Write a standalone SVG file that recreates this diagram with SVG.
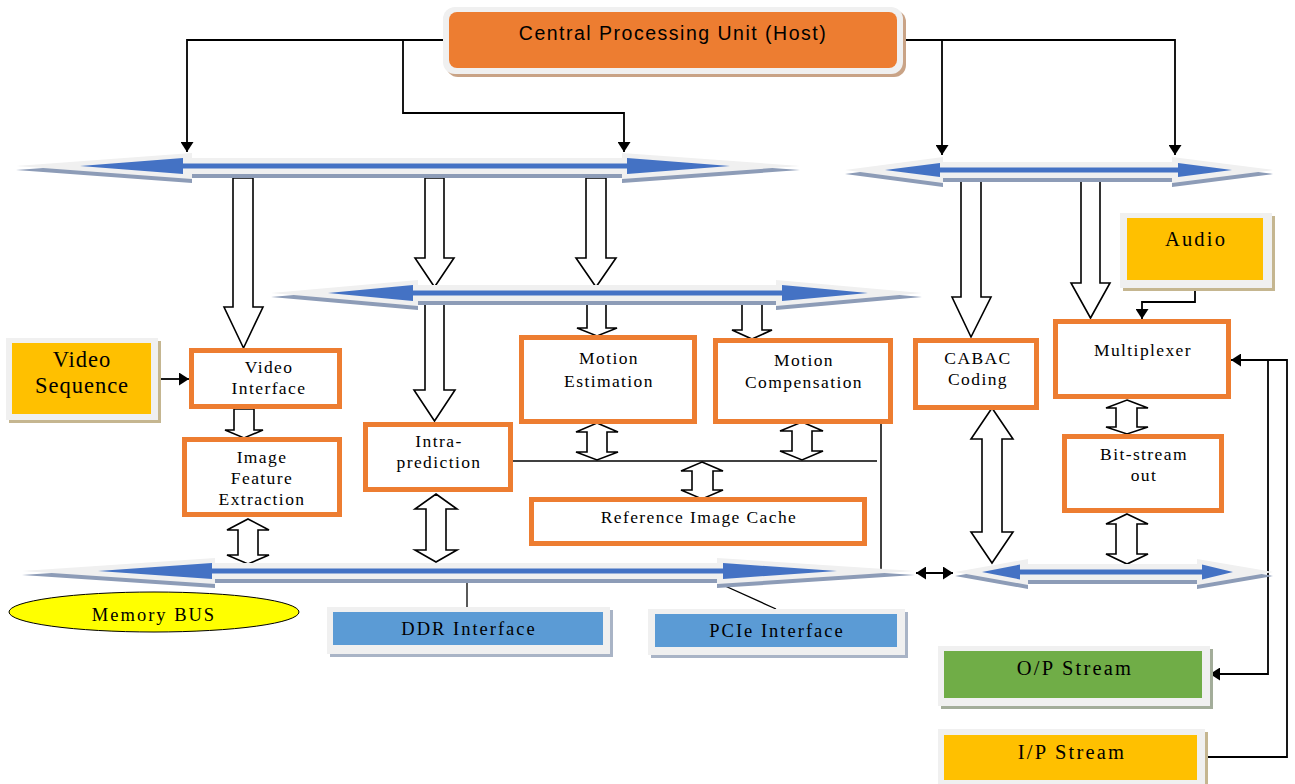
<svg xmlns="http://www.w3.org/2000/svg" width="1295" height="784" viewBox="0 0 1295 784">
<defs>
<marker id="ah" markerWidth="10" markerHeight="13" refX="10" refY="6.5" orient="auto-start-reverse" markerUnits="userSpaceOnUse">
<path d="M0,0 L10,6.5 L0,13 z" fill="#000"/>
</marker>
<style>
.ln{fill:none;stroke:#000;stroke-width:1.8}
.blk{fill:#fff;stroke:#000;stroke-width:1.6;stroke-linejoin:miter}
.bo{fill:#f0f0f0}
.bs{fill:#8d9cb7}
.bi{fill:#4472c4}
.ob{fill:#fff;stroke:#ed7d31;stroke-width:5}
.frame{fill:#f0f0f0}
.t17{font-family:"Liberation Serif","Times New Roman",serif;font-size:17.5px;letter-spacing:1.4px;text-anchor:middle;fill:#000}
.t18{font-family:"Liberation Serif","Times New Roman",serif;font-size:18.5px;letter-spacing:2px;text-anchor:middle;fill:#000}
.t20{font-family:"Liberation Serif","Times New Roman",serif;font-size:20.5px;letter-spacing:2.2px;text-anchor:middle;fill:#000}
.t22{font-family:"Liberation Serif","Times New Roman",serif;font-size:22.5px;letter-spacing:1px;text-anchor:middle;fill:#000}
.cpu{font-family:"Liberation Sans",Arial,sans-serif;font-size:19.5px;letter-spacing:1.5px;text-anchor:middle;fill:#000}
</style>
</defs>
<rect width="1295" height="784" fill="#fff"/>

<g id="connectors">
<polyline class="ln" points="443,40 187,40 187,152" marker-end="url(#ah)"/>
<polyline class="ln" points="403,40 403,113 624,113 624,152" marker-end="url(#ah)"/>
<polyline class="ln" points="903,40 1175,40 1175,155" marker-end="url(#ah)"/>
<polyline class="ln" points="942,40 942,155" marker-end="url(#ah)"/>
<polyline class="ln" points="158,379 189,379" marker-end="url(#ah)"/>
<polyline class="ln" points="1195,288 1195,302 1142,302 1142,319" marker-end="url(#ah)"/>
<polyline class="ln" points="1205,757 1287,757 1287,360 1231,360" marker-end="url(#ah)"/>
<polyline class="ln" points="1268,360 1268,674 1210,674" marker-end="url(#ah)"/>
<polyline class="ln" points="916,573 953,573" marker-start="url(#ah)" marker-end="url(#ah)"/>
<line class="ln" x1="513" y1="461" x2="877" y2="461" style="stroke-width:1.5"/>
<line class="ln" x1="881" y1="423" x2="881" y2="572" style="stroke-width:1.5"/>
<line class="ln" x1="467" y1="577" x2="467" y2="607" style="stroke-width:1.3"/>
<line class="ln" x1="714" y1="581" x2="776" y2="609" style="stroke-width:1.3"/>
<polygon class="blk" points="233,178 253,178 253,307 263,307 243.5,348 224,307 233,307"/>
<polygon class="blk" points="425,178 444,178 444,258 454,258 434.5,287 415,258 425,258"/>
<polygon class="blk" points="586,178 606,178 606,258 616,258 596,287 576,258 586,258"/>
<polygon class="blk" points="425,302 444,302 444,390 455,390 434.5,421 414,390 425,390"/>
<polygon class="blk" points="587,302 606,302 606,328 617,328 597,336 577,328 587,328"/>
<polygon class="blk" points="742,302 762,302 762,330 772,330 752,339 732,330 742,330"/>
<polygon class="blk" points="234,409 254,409 254,430 263,430 244,438 225,430 234,430"/>
<polygon class="blk" points="961,180 981,180 981,297 991,297 971,337 952,297 961,297"/>
<polygon class="blk" points="1081,180 1100,180 1100,283 1110,283 1090.5,318 1071,283 1081,283"/>
<polygon class="blk" points="597,423 618,432 607,432 607,452 618,452 597,460 576,452 587,452 587,432 576,432"/>
<polygon class="blk" points="802,422 823,431 812,431 812,451 823,451 802,460 780,451 792,451 792,431 780,431"/>
<polygon class="blk" points="702,462 723,471 713,471 713,490 723,490 702,499 681,490 692,490 692,471 681,471"/>
<polygon class="blk" points="436,494 457,509 446,509 446,550 457,550 436,562 415,550 426,550 426,509 415,509"/>
<polygon class="blk" points="248,519 269,530 258,530 258,555 269,555 248,564 227,555 238,555 238,530 227,530"/>
<polygon class="blk" points="992,408 1013,439 1002,439 1002,532 1013,532 992,563 971,532 982,532 982,439 971,439"/>
<polygon class="blk" points="1127,400 1148,408 1137,408 1137,427 1148,427 1127,434 1106,427 1116,427 1116,408 1106,408"/>
<polygon class="blk" points="1127,514 1148,524 1137,524 1137,554 1148,554 1127,564 1106,554 1116,554 1116,524 1106,524"/>
</g>

<g id="bus-top-left">
<path class="bs" d="M16,170 L192,157 L192,162 L622,162 L622,157 L800,170 L622,183 L622,178 L192,178 L192,183 Z"/>
<path class="bo" d="M16,166 L192,153 L192,158 L622,158 L622,153 L800,166 L622,179 L622,174 L192,174 L192,179 Z"/>
<path class="bi" d="M80,166 L183,158 L183,163.5 L627,163.5 L627,158 L730,166 L627,174 L627,168.5 L183,168.5 L183,174 Z"/>
</g>
<g id="bus-top-right">
<path class="bs" d="M845,174 L943,161 L943,166 L1172,166 L1172,161 L1273,174 L1172,187 L1172,182 L943,182 L943,187 Z"/>
<path class="bo" d="M845,170 L943,157 L943,162 L1172,162 L1172,157 L1273,170 L1172,183 L1172,178 L943,178 L943,183 Z"/>
<path class="bi" d="M885,170 L940,163 L940,167.5 L1178,167.5 L1178,163 L1232,170 L1178,177 L1178,172.5 L940,172.5 L940,177 Z"/>
</g>
<g id="bus-middle">
<path class="bs" d="M271,297 L418,284 L418,289 L776,289 L776,284 L922,297 L776,310 L776,305 L418,305 L418,310 Z"/>
<path class="bo" d="M271,293 L418,280 L418,285 L776,285 L776,280 L922,293 L776,306 L776,301 L418,301 L418,306 Z"/>
<path class="bi" d="M328,293 L413,285 L413,290.5 L782,290.5 L782,285 L868,293 L782,301 L782,295.5 L413,295.5 L413,301 Z"/>
</g>
<g id="bus-memory">
<path class="bs" d="M22,575 L215,562 L215,567 L717,567 L717,562 L915,575 L717,588 L717,583 L215,583 L215,588 Z"/>
<path class="bo" d="M22,571 L215,558 L215,563 L717,563 L717,558 L915,571 L717,584 L717,579 L215,579 L215,584 Z"/>
<path class="bi" d="M98,571 L212,563 L212,568.5 L723,568.5 L723,563 L837,571 L723,579 L723,573.5 L212,573.5 L212,579 Z"/>
</g>
<g id="bus-bottom-right">
<path class="bs" d="M955,576 L1028,563 L1028,568 L1197,568 L1197,563 L1273,576 L1197,589 L1197,584 L1028,584 L1028,589 Z"/>
<path class="bo" d="M955,572 L1028,559 L1028,564 L1197,564 L1197,559 L1273,572 L1197,585 L1197,580 L1028,580 L1028,585 Z"/>
<path class="bi" d="M982,572 L1020,564.5 L1020,569.5 L1202,569.5 L1202,564.5 L1233,572 L1202,579.5 L1202,574.5 L1020,574.5 L1020,579.5 Z"/>
</g>

<g id="cpu">
<rect x="446" y="10" width="460" height="67" rx="12" fill="#c9a386"/>
<rect x="443" y="7" width="460" height="67" rx="12" class="frame"/>
<rect x="449" y="12" width="448" height="56" rx="8" fill="#ed7d31"/>
<text class="cpu" x="673" y="40">Central Processing Unit (Host)</text>
</g>

<g id="video-sequence">
<rect x="9" y="341" width="152" height="82" fill="#c5b690"/>
<rect x="6" y="338" width="152" height="82" class="frame"/>
<rect x="12" y="343" width="139" height="71" fill="#ffc000"/>
<text class="t22" x="82" y="367">Video</text>
<text class="t22" x="82" y="393">Sequence</text>
</g>

<g id="video-interface">
<rect class="ob" x="191.5" y="350.5" width="148" height="56"/>
<text class="t17" x="269" y="373">Video</text>
<text class="t17" x="269" y="394">Interface</text>
</g>

<g id="image-feature-extraction">
<rect class="ob" x="184.5" y="439.5" width="155" height="75"/>
<text class="t17" x="262" y="463">Image</text>
<text class="t17" x="262" y="484">Feature</text>
<text class="t17" x="262" y="505">Extraction</text>
</g>

<g id="intra-prediction">
<rect class="ob" x="365.5" y="424.5" width="145" height="65"/>
<text class="t17" x="439" y="447">Intra-</text>
<text class="t17" x="439" y="468">prediction</text>
</g>

<g id="motion-estimation">
<rect class="ob" x="521.5" y="337.5" width="173" height="84"/>
<text class="t17" x="609" y="364">Motion</text>
<text class="t17" x="609" y="387">Estimation</text>
</g>

<g id="motion-compensation">
<rect class="ob" x="715.5" y="340.5" width="175" height="81"/>
<text class="t17" x="804" y="366">Motion</text>
<text class="t17" x="804" y="388">Compensation</text>
</g>

<g id="reference-image-cache">
<rect class="ob" x="531.5" y="499.5" width="333" height="44"/>
<text class="t17" x="699" y="523">Reference Image Cache</text>
</g>

<g id="cabac">
<rect class="ob" x="915.5" y="340.5" width="121" height="67"/>
<text class="t17" x="978" y="364">CABAC</text>
<text class="t17" x="978" y="385">Coding</text>
</g>

<g id="audio">
<rect x="1123" y="216" width="152" height="75" fill="#c5b690"/>
<rect x="1120" y="213" width="152" height="75" class="frame"/>
<rect x="1127" y="218" width="136" height="62" fill="#ffc000"/>
<text class="t20" x="1196" y="246">Audio</text>
</g>

<g id="multiplexer">
<rect class="ob" x="1055.5" y="321.5" width="173" height="75"/>
<text class="t17" x="1143" y="356">Multiplexer</text>
</g>

<g id="bit-stream-out">
<rect class="ob" x="1064.5" y="436.5" width="157" height="74"/>
<text class="t17" x="1144" y="460">Bit-stream</text>
<text class="t17" x="1144" y="481">out</text>
</g>

<g id="memory-bus">
<ellipse cx="154" cy="612" rx="145" ry="20" fill="#ffff00" stroke="#000" stroke-width="1"/>
<text class="t18" x="154" y="621">Memory BUS</text>
</g>

<g id="ddr-interface">
<rect x="330" y="610" width="283" height="47" fill="#a9b4c6"/>
<rect x="327" y="607" width="283" height="47" class="frame"/>
<rect x="333" y="612" width="270" height="33" fill="#5b9bd5"/>
<text class="t18" x="469" y="635">DDR Interface</text>
</g>

<g id="pcie-interface">
<rect x="651" y="612" width="257" height="46" fill="#a9b4c6"/>
<rect x="648" y="609" width="257" height="46" class="frame"/>
<rect x="655" y="614" width="242" height="33" fill="#5b9bd5"/>
<text class="t18" x="777" y="637">PCIe Interface</text>
</g>

<g id="op-stream">
<rect x="941" y="649" width="272" height="60" fill="#a3ad9a"/>
<rect x="938" y="646" width="272" height="60" class="frame"/>
<rect x="944" y="651" width="258" height="47" fill="#70ad47"/>
<text class="t20" x="1075" y="675">O/P Stream</text>
</g>

<g id="ip-stream">
<rect x="941" y="732" width="267" height="60" fill="#c5b690"/>
<rect x="938" y="729" width="267" height="60" class="frame"/>
<rect x="944" y="735" width="253" height="45" fill="#ffc000"/>
<text class="t20" x="1072" y="759">I/P Stream</text>
</g>
</svg>
